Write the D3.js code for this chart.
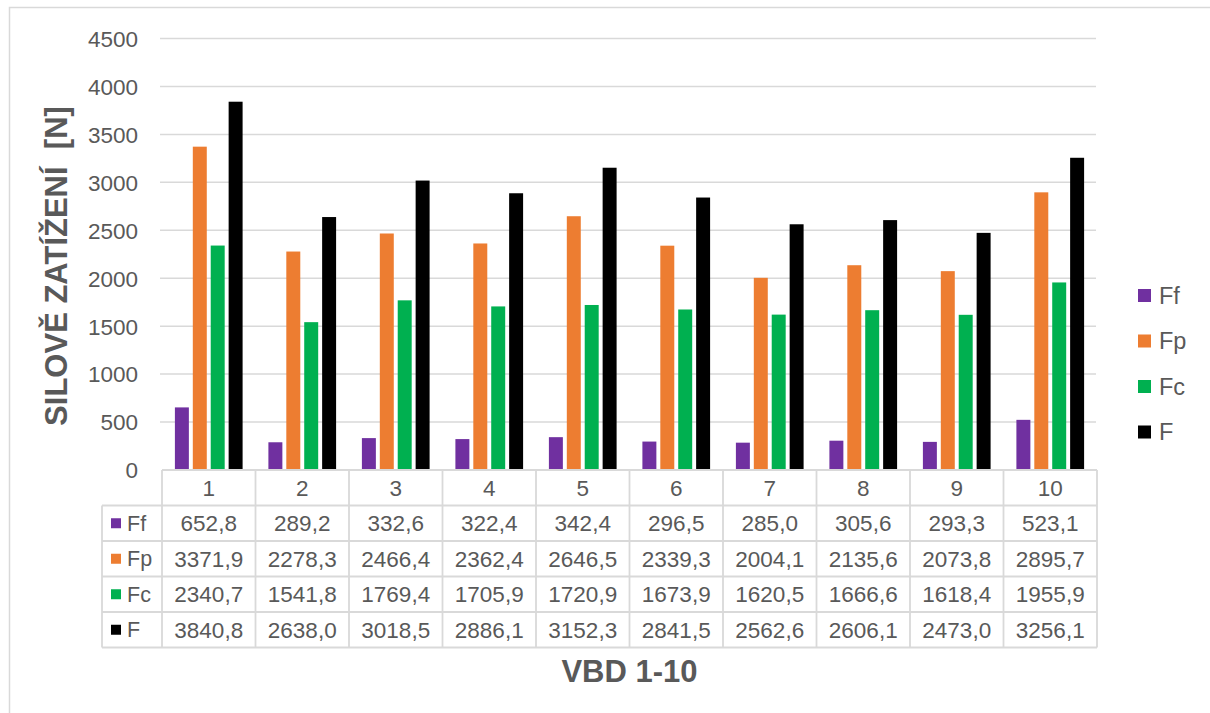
<!DOCTYPE html>
<html>
<head>
<meta charset="utf-8">
<script src="https://cdn.jsdelivr.net/npm/d3@7"></script>
<style>
  html, body { margin: 0; padding: 0; background: #fff; }
  svg { display: block; font-family: "Liberation Sans", Arial, sans-serif; }
</style>
</head>
<body>
<svg id="chart" width="1210" height="713"></svg>
<script>
// Measurements VBD 1-10
const categories = ["1", "2", "3", "4", "5", "6", "7", "8", "9", "10"];
const seriesNames = ["Ff", "Fp", "Fc", "F"];
const seriesColors = ["#7030A0", "#ED7D31", "#00B050", "#000000"];
const Ff = [652.8, 289.2, 332.6, 322.4, 342.4, 296.5, 285.0, 305.6, 293.3, 523.1];
const Fp = [3371.9, 2278.3, 2466.4, 2362.4, 2646.5, 2339.3, 2004.1, 2135.6, 2073.8, 2895.7];
const Fc = [2340.7, 1541.8, 1769.4, 1705.9, 1720.9, 1673.9, 1620.5, 1666.6, 1618.4, 1955.9];
const F  = [3840.8, 2638.0, 3018.5, 2886.1, 3152.3, 2841.5, 2562.6, 2606.1, 2473.0, 3256.1];
const yTicks = [0, 500, 1000, 1500, 2000, 2500, 3000, 3500, 4000, 4500];
const yTitle = "SILOVĚ ZATÍŽENÍ  [N]";
const xTitle = "VBD 1-10";

const seriesValues = [Ff, Fp, Fc, F];
const series = seriesNames.map((name, i) => ({ name, color: seriesColors[i], values: seriesValues[i] }));

const cz = d3.formatLocale({ decimal: ",", thousands: "", grouping: [3], currency: ["", ""] });
const fmt = cz.format(".1f");

const svg = d3.select("#chart");
const textColor = "#595959";
const gridColor = "#d9d9d9";
const numSize = 22.5;

// chart frame
svg.append("rect")
  .attr("x", 9.5).attr("y", 7.5).attr("width", 1230).attr("height", 740)
  .attr("fill", "none").attr("stroke", gridColor).attr("stroke-width", 1.5);

const plotLeft = 162, plotRight = 1097, plotTop = 38.5, plotBase = 470;

const x = d3.scaleBand().domain(categories).range([plotLeft, plotRight]).paddingInner(0).paddingOuter(0);
const y = d3.scaleLinear().domain([0, 4500]).range([plotBase, plotTop]);
const xs = d3.scaleBand().domain(seriesNames).range([0, x.bandwidth()]).paddingInner(0.22).paddingOuter(0.72);

// y tick labels via axis
const yAxis = d3.axisLeft(y).tickValues(yTicks).tickSize(0).tickPadding(0).tickFormat(d3.format("d"));
const yg = svg.append("g").attr("transform", `translate(138,0)`).call(yAxis);
yg.select(".domain").remove();
yg.selectAll("text").attr("fill", textColor).attr("font-size", numSize).attr("font-family", "Liberation Sans, Arial, sans-serif").attr("dy", "0.35em");

// gridlines
svg.append("g").selectAll("line").data(yTicks.filter(d => d > 0)).join("line")
  .attr("x1", 160).attr("x2", 1096)
  .attr("y1", d => y(d)).attr("y2", d => y(d))
  .attr("stroke", gridColor).attr("stroke-width", 1.5);

// bars
const groups = svg.append("g").selectAll("g").data(series).join("g").attr("fill", d => d.color);
groups.selectAll("rect").data(s => s.values.map((v, i) => ({ v, cat: categories[i], name: s.name })))
  .join("rect")
  .attr("x", d => x(d.cat) + xs(d.name))
  .attr("width", xs.bandwidth())
  .attr("y", d => y(d.v))
  .attr("height", d => plotBase - y(d.v));

// data table
const rowH = 35.5;
const labelLeft = 102;
const tbl = svg.append("g");
const lineStyle = sel => sel.attr("stroke", gridColor).attr("stroke-width", 1.8).attr("fill", "none");

// header row with category labels
tbl.selectAll("text.cat").data(categories).join("text")
  .attr("class", "cat")
  .attr("x", d => x(d) + x.bandwidth() / 2)
  .attr("y", plotBase + rowH / 2)
  .attr("dy", "0.36em")
  .attr("text-anchor", "middle")
  .attr("fill", textColor).attr("font-size", numSize)
  .text(d => d);

// horizontal rules
const tableBottom = plotBase + rowH * 5;
for (let r = 0; r <= 5; r++) {
  tbl.append("line").call(lineStyle)
    .attr("x1", r === 0 ? plotLeft : labelLeft).attr("x2", plotRight)
    .attr("y1", plotBase + r * rowH).attr("y2", plotBase + r * rowH);
}
// vertical rules
tbl.append("line").call(lineStyle)
  .attr("x1", labelLeft).attr("x2", labelLeft).attr("y1", plotBase + rowH).attr("y2", tableBottom);
categories.forEach(c => {
  tbl.append("line").call(lineStyle)
    .attr("x1", x(c)).attr("x2", x(c)).attr("y1", plotBase).attr("y2", tableBottom);
});
tbl.append("line").call(lineStyle)
  .attr("x1", plotRight).attr("x2", plotRight).attr("y1", plotBase).attr("y2", tableBottom);

// series rows
const rows = tbl.selectAll("g.row").data(series).join("g")
  .attr("class", "row")
  .attr("transform", (d, i) => `translate(0,${plotBase + rowH * (i + 1)})`);
rows.append("rect")
  .attr("x", 111).attr("y", rowH / 2 - 5).attr("width", 10).attr("height", 10)
  .attr("fill", d => d.color);
rows.append("text")
  .attr("x", 127).attr("y", rowH / 2).attr("dy", "0.36em")
  .attr("fill", textColor).attr("font-size", 21.5)
  .text(d => d.name);
rows.selectAll("text.val").data(s => s.values.map((v, i) => ({ v, cat: categories[i] })))
  .join("text")
  .attr("class", "val")
  .attr("x", d => x(d.cat) + x.bandwidth() / 2)
  .attr("y", rowH / 2).attr("dy", "0.36em")
  .attr("text-anchor", "middle")
  .attr("fill", textColor).attr("font-size", numSize)
  .text(d => fmt(d.v));

// legend
const legend = svg.append("g").selectAll("g").data(series).join("g")
  .attr("transform", (d, i) => `translate(1138,${295.5 + i * 45.5})`);
legend.append("rect").attr("x", 0).attr("y", -6.5).attr("width", 13).attr("height", 13).attr("fill", d => d.color);
legend.append("text").attr("x", 21).attr("y", 0).attr("dy", "0.36em")
  .attr("fill", textColor).attr("font-size", 23.5).text(d => d.name);

// axis titles
svg.append("text")
  .attr("transform", "translate(67,266) rotate(-90)")
  .attr("text-anchor", "middle")
  .attr("fill", textColor).attr("font-size", 31).attr("font-weight", "bold")
  .style("white-space", "pre")
  .text(yTitle);

svg.append("text")
  .attr("x", 629.5).attr("y", 682)
  .attr("text-anchor", "middle")
  .attr("fill", textColor).attr("font-size", 31).attr("font-weight", "bold")
  .text(xTitle);
</script>
</body>
</html>
